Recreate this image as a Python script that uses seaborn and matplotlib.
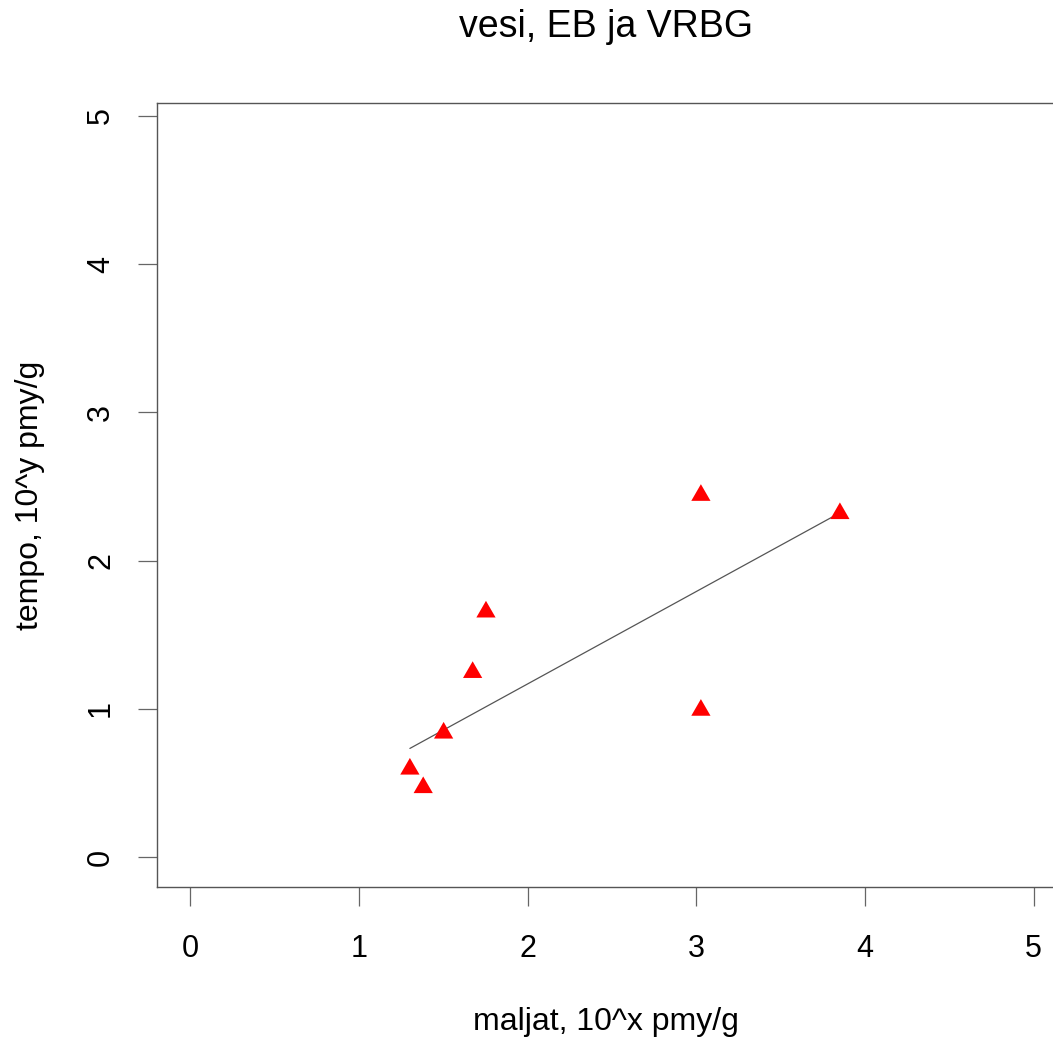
import matplotlib
matplotlib.use("Agg")
import matplotlib.pyplot as plt
import seaborn as sns
import pandas as pd

# log10 counts of the two groups per sample
maljat = [1.302, 1.381, 1.502, 1.674, 1.753, 3.027, 3.027, 3.851]
tempo = [0.594, 0.469, 0.837, 1.246, 1.654, 2.441, 0.991, 2.318]

# fitted line end points
fit_x = [1.302, 3.845]
fit_y = [0.733, 2.319]

x_ticks = [0, 1, 2, 3, 4, 5]
y_ticks = [0, 1, 2, 3, 4, 5]

title = "vesi, EB ja VRBG"
x_label = "maljat, 10^x pmy/g"
y_label = "tempo, 10^y pmy/g"

sns.set_style("white")
plt.rcParams["font.family"] = ["Liberation Sans", "DejaVu Sans"]
plt.rcParams["text.color"] = "black"
plt.rcParams["axes.labelcolor"] = "black"

W, H = 1053, 1041
fig = plt.figure(figsize=(W / 100, H / 100), dpi=100)
ax = fig.add_axes([157 / W, 1 - 887 / H, 898 / W, 784 / H])

df = pd.DataFrame({"maljat": maljat, "tempo": tempo})
fit = pd.DataFrame({"x": fit_x, "y": fit_y})

# filled triangle centred on its centroid
tri = [(0.0, 1.0), (-0.866, -0.5), (0.866, -0.5)]

sns.lineplot(data=fit, x="x", y="y", ax=ax, color="#555555", linewidth=0.9,
             estimator=None, sort=False)
sns.scatterplot(data=df, x="maljat", y="tempo", ax=ax, marker=tri, s=256,
                color="#ff0000", edgecolor="none", linewidth=0, zorder=3)

ax.set_xlim(-0.197, 5.126)
ax.set_ylim(-0.202, 5.088)
ax.set_xticks(x_ticks)
ax.set_yticks(y_ticks)
ax.set_xticklabels([str(v) for v in x_ticks])
ax.set_yticklabels([str(v) for v in y_ticks])

edge = "#555555"
for s in ax.spines.values():
    s.set_color(edge)
    s.set_linewidth(1.0)

ax.tick_params(axis="both", which="major", direction="out", length=13.5,
               width=0.9, color="#666666", labelsize=22, labelcolor="black",
               bottom=True, left=True, top=False, right=False)
ax.tick_params(axis="x", pad=20)
ax.tick_params(axis="y", pad=16, labelrotation=90)
for lbl in ax.get_yticklabels():
    lbl.set_va("center")
    lbl.set_ha("right")

ax.set_xlabel(x_label, fontsize=23, va="center", color="black")
ax.xaxis.set_label_coords(0.5, -(1022 - 887) / 784)
ax.set_ylabel(y_label, fontsize=23, va="center", color="black")
ax.yaxis.set_label_coords((30 - 157) / 898, 0.5)

fig.text(606 / W, 1 - 27 / H, title, fontsize=27, ha="center", va="center",
         color="black")

fig.savefig("out.png", dpi=100)
